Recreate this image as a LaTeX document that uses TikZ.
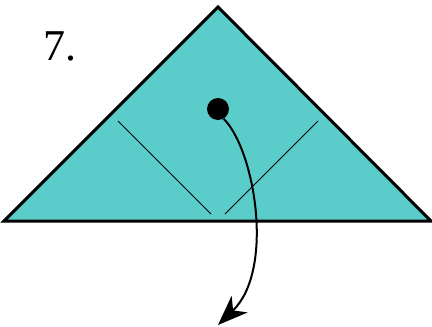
\documentclass[tikz,border=0pt]{standalone}
\usepackage{fontspec}
\setmainfont{Liberation Serif}
\usepackage{tikz}
\usetikzlibrary{arrows.meta,positioning,calc}
\definecolor{paper}{HTML}{5ACCCA}

\begin{document}
\begin{tikzpicture}[
    x=1pt, y=-1pt,
    outline/.style={draw=black, line width=3pt, line join=miter},
    crease/.style={draw=black, line width=1pt},
    pin/.style={circle, fill=black, inner sep=0pt, minimum size=22pt},
    fold/.style={line width=2pt, -{Stealth[length=30pt, width=23pt, inset=9pt]}}
]
\useasboundingbox (0,0) rectangle (432,327);

% flap
\coordinate (apex) at (218,7);
\coordinate (left) at (4,221);
\coordinate (right) at (431,221);
\filldraw[outline, fill=paper] (left) -- (apex) -- (right) -- cycle;

% creases
\coordinate (c1) at (118,121);
\coordinate (c2) at (211,214);
\coordinate (c3) at (318,121);
\coordinate (c4) at (225,214);
\draw[crease] (c1) -- (c2);
\draw[crease] (c3) -- (c4);

% step number
\node[font=\fontsize{44}{50}\selectfont] (num) at (60,46) {7.};

% fold arrow
\node[pin] (dot) at (218,109) {};
\coordinate (tip) at (218,325);
\draw[fold] (dot.-60) .. controls (255,150) and (275,270) .. (tip);

\end{tikzpicture}
\end{document}
